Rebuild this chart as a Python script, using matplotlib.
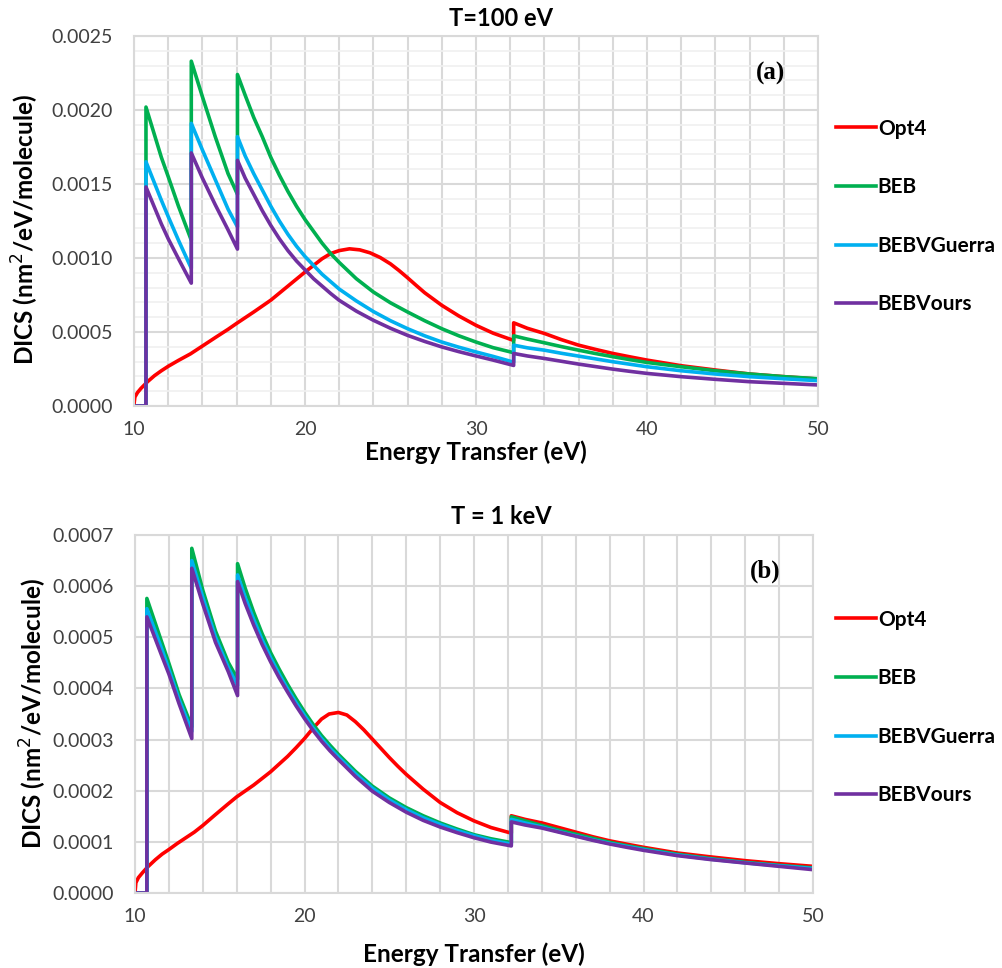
import matplotlib
matplotlib.use("Agg")
import matplotlib.pyplot as plt
from matplotlib.ticker import MultipleLocator, FormatStrFormatter

plt.rcParams["font.family"] = ["Lato", "DejaVu Sans"]

# energy grid shared by the three BEB-type curves (repeated x = vertical jump at a threshold)
x_beb = [10.0, 10.7, 10.7, 11.6, 12.0, 12.6, 13.35, 13.35, 14.0, 14.75, 15.5, 16.05, 16.05,
         16.5, 17.0, 17.5, 18.0, 18.5, 19.0, 19.5, 20.0, 20.5, 21.0, 21.5, 22.0,
         23, 24, 25, 26, 27, 28, 29, 30, 31, 32.2, 32.2,
         33, 34, 35, 36, 37, 38, 39, 40, 42, 44, 46, 48, 50]

# ---- panel (a): T = 100 eV ----
beb_a = [0, 0, 0.00202, 0.00168, 0.00155, 0.00135, 0.00112, 0.00233, 0.00209, 0.00182, 0.00157, 0.00143, 0.00224,
         0.00210, 0.00195, 0.00182, 0.00168, 0.00156, 0.00145, 0.00135, 0.00126, 0.00118, 0.00110, 0.00103, 0.00097,
         0.00086, 0.00077, 0.000697, 0.000635, 0.000576, 0.000522, 0.000474, 0.000432, 0.000394, 0.00036, 0.000474,
         0.000452, 0.000427, 0.000401, 0.000377, 0.000354, 0.000333, 0.000313, 0.000294,
         0.000265, 0.000238, 0.000216, 0.000198, 0.000184]
guerra_a = [0, 0, 0.00165, 0.00139, 0.00128, 0.00112, 0.00093, 0.00191, 0.00173, 0.00153, 0.00133, 0.00121, 0.00182,
            0.00169, 0.00157, 0.00146, 0.00135, 0.00125, 0.00116, 0.00108, 0.00101, 0.00095, 0.00089, 0.00084, 0.00079,
            0.00071, 0.000638, 0.000576, 0.000522, 0.000474, 0.000432, 0.000397, 0.000365, 0.000335, 0.000296, 0.000411,
            0.000393, 0.000377, 0.000356, 0.000337, 0.000318, 0.000299, 0.000282, 0.000265,
            0.000238, 0.000216, 0.000198, 0.000184, 0.000171]
ours_a = [0, 0, 0.00148, 0.00123, 0.00113, 0.000995, 0.00083, 0.00171, 0.00154, 0.00136, 0.00119, 0.00106, 0.00166,
          0.00154, 0.00143, 0.00132, 0.00122, 0.00113, 0.00105, 0.00098, 0.00092, 0.00086, 0.00081, 0.00076, 0.000714,
          0.000641, 0.000579, 0.000525, 0.000477, 0.000436, 0.000399, 0.000367, 0.000338, 0.00031, 0.000274, 0.000355,
          0.000338, 0.000321, 0.000302, 0.000283, 0.000266, 0.000249, 0.000234, 0.00022,
          0.000198, 0.00018, 0.000164, 0.000153, 0.000142]
x_opt4_a = [10.0, 10.05, 10.2, 10.4, 10.8, 11.2, 11.6, 12.0, 12.6, 13.3, 14.0, 14.75, 15.5, 16.0, 17.0, 18.0,
            19.0, 20.0, 20.5, 21.0, 21.5, 22.0, 22.6, 23.2, 23.8, 24.4, 25.0, 25.5, 26.0, 26.5, 27.0, 28.0,
            29.0, 30.0, 31.0, 32.2, 32.2, 33, 34, 35, 36, 37, 38, 39, 40, 42, 44, 46, 48, 50]
opt4_a = [0.00001, 0.00006, 0.00009, 0.000118, 0.000165, 0.000205, 0.000238, 0.000268, 0.000308, 0.000352,
          0.000405, 0.000462, 0.000518, 0.000558, 0.000635, 0.000715, 0.00081, 0.000905, 0.00095, 0.000995,
          0.00103, 0.00105, 0.001062, 0.001055, 0.001035, 0.001003, 0.00096, 0.000915, 0.000866, 0.000815,
          0.000765, 0.000680, 0.000608, 0.000545, 0.000492, 0.000443, 0.000562, 0.000525, 0.00049, 0.000448,
          0.000411, 0.000382, 0.000355, 0.000332, 0.00031, 0.000272, 0.000243, 0.000216, 0.000198, 0.000182]

# ---- panel (b): T = 1 keV ----
beb_b = [0, 0, 0.000576, 0.000488, 0.000449, 0.000388, 0.000325, 0.000674, 0.000592, 0.000512, 0.000451, 0.000418, 0.000644,
         0.000596, 0.000549, 0.000507, 0.00047, 0.000438, 0.000408, 0.00038, 0.000354, 0.00033, 0.000308, 0.000289, 0.000271,
         0.000238, 0.000209, 0.000186, 0.000167, 0.000151, 0.000137, 0.000125, 0.000114, 0.000106, 0.0000985, 0.000149,
         0.000141, 0.000132, 0.000123, 0.000115, 0.000107, 0.000099, 0.0000925, 0.0000867,
         0.0000756, 0.0000671, 0.0000599, 0.0000541, 0.0000489]
guerra_b = [0, 0, 0.000556, 0.000475, 0.000437, 0.000378, 0.000316, 0.00065, 0.000578, 0.0005, 0.000441, 0.000405, 0.000622,
            0.000578, 0.000535, 0.000495, 0.00046, 0.000428, 0.000399, 0.000372, 0.000347, 0.000323, 0.000302, 0.000283, 0.000266,
            0.000233, 0.000205, 0.000182, 0.000163, 0.000147, 0.000134, 0.000122, 0.000112, 0.000103, 0.0000955, 0.000144,
            0.000137, 0.000129, 0.00012, 0.000112, 0.000104, 0.000097, 0.000091, 0.000085,
            0.0000742, 0.000066, 0.000059, 0.0000532, 0.0000478]
ours_b = [0, 0, 0.00054, 0.000462, 0.000428, 0.00037, 0.000302, 0.000635, 0.000565, 0.00049, 0.000433, 0.000386, 0.000609,
          0.000566, 0.000524, 0.000486, 0.000452, 0.000421, 0.000393, 0.000366, 0.000341, 0.000318, 0.000297, 0.000278, 0.000261,
          0.000228, 0.000199, 0.000177, 0.000158, 0.000142, 0.000129, 0.000118, 0.000108, 0.0000995, 0.000092, 0.000139,
          0.000133, 0.000127, 0.000119, 0.000111, 0.000103, 0.0000958, 0.0000894, 0.0000834,
          0.000073, 0.0000652, 0.0000586, 0.0000521, 0.0000456]
x_opt4_b = [10.0, 10.05, 10.2, 10.45, 10.75, 11.2, 11.6, 12.0, 12.5, 13.0, 13.5, 14.0, 14.7, 15.45, 16.0, 17.0,
            18.0, 19.0, 19.5, 20.0, 20.5, 21.0, 21.45, 22.0, 22.5, 23.0, 23.5, 24.0, 24.5, 25.0, 25.5, 26.0,
            27.0, 28.0, 29.0, 30.0, 31.0, 32.2, 32.2, 33, 34, 35, 36, 37, 38, 39, 40, 42, 44, 46, 48, 50]
opt4_b = [0.0, 0.00002, 0.00003, 0.00004, 0.000051, 0.000065, 0.000076, 0.000085, 0.000097, 0.000108, 0.000119,
          0.000132, 0.000152, 0.000173, 0.000188, 0.000211, 0.000237, 0.000267, 0.000284, 0.000302, 0.000322,
          0.00034, 0.00035, 0.000353, 0.000348, 0.000335, 0.000319, 0.000301, 0.000283, 0.000265, 0.000248,
          0.000232, 0.000203, 0.000177, 0.000157, 0.000141, 0.000128, 0.000117, 0.000151, 0.000144, 0.000137,
          0.000128, 0.000119, 0.00011, 0.000102, 0.0000955, 0.0000893, 0.0000782, 0.0000704, 0.0000632,
          0.0000573, 0.0000521]

COLORS = {"Opt4": "#FF0000", "BEB": "#00B050", "BEBVGuerra": "#00B0F0", "BEBVours": "#7030A0"}
GRID = "#D9D9D9"


def draw_panel(ax, x_opt4, opt4, beb, guerra, ours, ymax, ymajor, yminor, tag, legend_y):
    ax.plot(x_opt4, opt4, color=COLORS["Opt4"], lw=2.6, label="Opt4")
    ax.plot(x_beb, beb, color=COLORS["BEB"], lw=2.6, label="BEB")
    ax.plot(x_beb, guerra, color=COLORS["BEBVGuerra"], lw=2.6, label="BEBVGuerra")
    ax.plot(x_beb, ours, color=COLORS["BEBVours"], lw=2.6, label="BEBVours")
    ax.set_xlim(10, 50)
    ax.set_ylim(0, ymax)
    ax.xaxis.set_major_locator(MultipleLocator(10))
    ax.xaxis.set_minor_locator(MultipleLocator(2))
    ax.yaxis.set_major_locator(MultipleLocator(ymajor))
    ax.yaxis.set_major_formatter(FormatStrFormatter("%.4f"))
    if yminor:
        ax.yaxis.set_minor_locator(MultipleLocator(yminor))
        ax.grid(True, which="minor", axis="y", color="#F0F0F0", lw=1.2, zorder=0)
    ax.grid(True, which="major", color=GRID, lw=1.5, zorder=0)
    ax.grid(True, which="minor", axis="x", color=GRID, lw=1.5, zorder=0)
    ax.set_axisbelow(True)
    ax.tick_params(which="both", length=0, labelsize=14, colors="#404040")
    ax.tick_params(axis="x", pad=11)
    ax.tick_params(axis="y", pad=15)
    for s in ax.spines.values():
        s.set_color(GRID)
        s.set_linewidth(1.5)
    ax.set_xlabel("Energy Transfer (eV)", fontsize=17.5, fontweight="bold", va="center")
    ax.set_ylabel("DICS (nm$^{2}$/eV/molecule)", fontsize=17.5, fontweight="bold", va="center")
    ax.text(0.93, 0.9, tag, transform=ax.transAxes, ha="center", va="center",
            family="Liberation Serif", fontweight="bold", fontsize=18)
    ax.legend(loc="upper left", bbox_to_anchor=(0.815, legend_y), bbox_transform=ax.figure.transFigure,
              frameon=False, handlelength=1.9, handletextpad=0.1, labelspacing=1.85,
              prop={"weight": "bold", "size": 15})


fig = plt.figure(figsize=(10.03, 9.68), dpi=100)
ax_a = fig.add_axes([0.1336, 0.5806, 0.682, 0.3822])
ax_b = fig.add_axes([0.1346, 0.0775, 0.676, 0.3698])

draw_panel(ax_a, x_opt4_a, opt4_a, beb_a, guerra_a, ours_a,
           0.0025, 0.0005, 0.0001, "(a)", 1 - 100 / 968)
draw_panel(ax_b, x_opt4_b, opt4_b, beb_b, guerra_b, ours_b,
           0.0007, 0.0001, None, "(b)", 1 - 591 / 968)

ax_a.xaxis.set_label_coords(0.5, -0.124)
ax_a.yaxis.set_label_coords(-0.159, 0.476)
ax_b.xaxis.set_label_coords(0.5, -0.172)
ax_b.yaxis.set_label_coords(-0.150, 0.5)

fig.text(0.5, 1 - 18 / 968, "T=100 eV", ha="center", va="center", fontsize=17, fontweight="bold")
fig.text(0.5, 1 - 517 / 968, "T = 1 keV", ha="center", va="center", fontsize=17, fontweight="bold")

fig.savefig("out.png", dpi=100)
